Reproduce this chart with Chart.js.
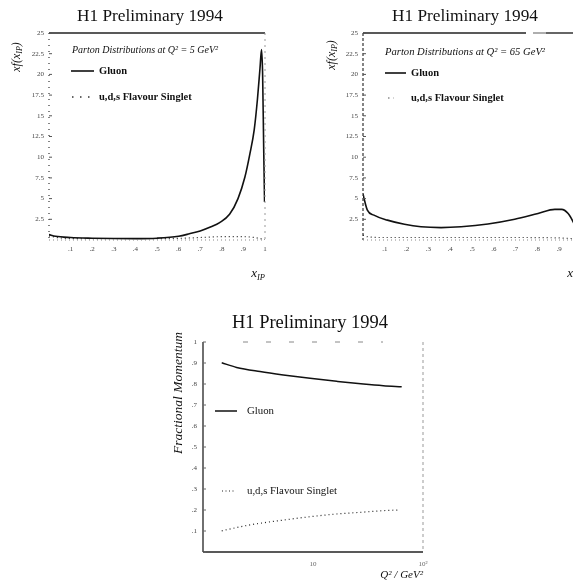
<!DOCTYPE html>
<html><head><meta charset="utf-8">
<script src="https://cdn.jsdelivr.net/npm/chart.js@4/dist/chart.umd.min.js"></script>
<style>
html,body{margin:0;padding:0;background:#fff;overflow:hidden;width:573px;height:588px;position:relative;}
canvas{position:absolute;display:block;}
</style></head><body>
<canvas id="c1" width="300" height="290" style="left:0;top:0"></canvas>
<canvas id="c2" width="310" height="290" style="left:310px;top:0"></canvas>
<canvas id="c3" width="320" height="298" style="left:150px;top:290px"></canvas>
<script>
// ---------------- data ----------------
const TITLE = 'H1 Preliminary 1994';
const LEG_GLUON = 'Gluon';
const LEG_SINGLET = 'u,d,s Flavour Singlet';

// Panel 1 : Q^2 = 5 GeV^2, xf(x_IP) vs x_IP
const p1Header = 'Parton Distributions at Q² = 5 GeV²';
const p1GluonX = [0, 0.03, 0.1, 0.2, 0.3, 0.4, 0.5, 0.6, 0.65, 0.7, 0.75, 0.79, 0.836, 0.875, 0.907, 0.93, 0.95, 0.965, 0.977, 0.984, 0.989, 0.994, 0.998];
const p1GluonY = [0.65, 0.45, 0.3, 0.22, 0.18, 0.17, 0.22, 0.45, 0.75, 1.1, 1.6, 2.1, 3.1, 5.0, 7.6, 10.4, 13.3, 17.0, 20.8, 23.0, 20.0, 11.0, 4.6];
const p1SingX = [0, 0.05, 0.2, 0.4, 0.6, 0.7, 0.8, 0.9, 0.95, 1.0];
const p1SingY = [0.5, 0.25, 0.15, 0.15, 0.2, 0.3, 0.4, 0.4, 0.3, 0.05];

// Panel 2 : Q^2 = 65 GeV^2
const p2Header = 'Parton Distributions at Q² = 65 GeV²';
const p2GluonX = [0, 0.005, 0.02, 0.05, 0.112, 0.19, 0.266, 0.358, 0.45, 0.573, 0.696, 0.803, 0.88, 0.911, 0.941, 0.964, 0.985, 1.0];
const p2GluonY = [5.6, 5.0, 3.6, 3.0, 2.4, 1.9, 1.6, 1.5, 1.6, 1.93, 2.5, 3.2, 3.7, 3.7, 3.2, 2.2, 1.0, 0.3];
const p2SingX = [0, 0.02, 0.1, 0.3, 0.5, 0.7, 0.9, 1.0];
const p2SingY = [0.6, 0.4, 0.3, 0.3, 0.3, 0.3, 0.25, 0.1];

// Panel 3 : fractional momentum vs Q^2
const p3GluonQ2 = [1.48, 2.02, 3.3, 5.37, 9.4, 16.4, 28.7, 43.6, 64];
const p3GluonY  = [0.901, 0.879, 0.859, 0.843, 0.827, 0.813, 0.80, 0.792, 0.787];
const p3SingQ2  = [1.48, 2.67, 5.37, 9.4, 16.4, 28.7, 43.6, 59.5];
const p3SingY   = [0.101, 0.129, 0.152, 0.168, 0.181, 0.19, 0.197, 0.20];

const p1YTicks = [2.5, 5, 7.5, 10, 12.5, 15, 17.5, 20, 22.5, 25];
const p3XTicks = [10, 100];
const p3XTickLabels = ['10', '10²'];

// ---------------- helpers ----------------
const SERIF = '"Liberation Serif", "DejaVu Serif", serif';
const pts = (xs, ys) => xs.map((x, i) => ({x: x, y: ys[i]}));

function font(size, style) { return (style || '') + ' ' + size + 'px ' + SERIF; }
function rich(ctx, x, y, parts, align) {
  let total = 0;
  parts.forEach(p => { ctx.font = font(p[1], p[2]); total += ctx.measureText(p[0]).width; });
  let cx = align === 'right' ? x - total : align === 'center' ? x - total / 2 : x;
  ctx.textAlign = 'left';
  parts.forEach(p => { ctx.font = font(p[1], p[2]); ctx.fillText(p[0], cx, y + (p[3] || 0)); cx += ctx.measureText(p[0]).width; });
}
function line(ctx, x1, y1, x2, y2, w, c, dash) {
  ctx.save(); ctx.beginPath(); ctx.lineWidth = w; ctx.strokeStyle = c; ctx.setLineDash(dash || []);
  ctx.moveTo(x1, y1); ctx.lineTo(x2, y2); ctx.stroke(); ctx.restore();
}
function text(ctx, s, x, y, f, align, base) {
  ctx.font = f; ctx.textAlign = align || 'left'; ctx.textBaseline = base || 'middle'; ctx.fillText(s, x, y);
}
function innerYTicks(chart, len, color) {
  const ctx = chart.ctx, a = chart.chartArea, ys = chart.scales.y;
  ys.ticks.forEach(t => {
    const py = ys.getPixelForValue(t.value);
    line(ctx, a.left, py, a.left + len, py, 1, color);
  });
}

function gluonDs(data, w) {
  return {label: LEG_GLUON, data: data, borderColor: '#111', borderWidth: w, pointRadius: 0, fill: false, cubicInterpolationMode: 'monotone'};
}
function singDs(data) {
  return {label: LEG_SINGLET, data: data, borderColor: '#222', borderWidth: 1.2, borderDash: [1, 3], pointRadius: 0, fill: false, cubicInterpolationMode: 'monotone'};
}
const tickFont = {size: 7, family: SERIF};

function topPanelOptions(yWidth, rightPad) {
  return {
    responsive: false, animation: false, devicePixelRatio: 1,
    layout: {padding: {left: 0, top: 33, right: rightPad, bottom: 34}},
    plugins: {legend: {display: false}, tooltip: {enabled: false}, title: {display: false}},
    scales: {
      x: {type: 'linear', min: 0, max: 1, afterFit: s => { s.height = 16; },
          grid: {display: false, drawTicks: false}, border: {display: false},
          ticks: {stepSize: 0.1, padding: 5, font: tickFont, color: '#444', maxRotation: 0, autoSkip: false,
                  callback: v => v === 0 ? '' : (Math.abs(v - 1) < 1e-9 ? '1' : '.' + Math.round(v * 10))}},
      y: {min: 0, max: 25, afterFit: s => { s.width = yWidth; },
          afterBuildTicks: s => { s.ticks = p1YTicks.map(v => ({value: v})); },
          grid: {display: false, drawTicks: false}, border: {display: false},
          ticks: {padding: 5, font: tickFont, color: '#444', callback: v => String(v)}}
    }
  };
}

// ---------------- Panel 1 ----------------
new Chart(document.getElementById('c1'), {
  type: 'line',
  data: {datasets: [gluonDs(pts(p1GluonX, p1GluonY), 1.6), singDs(pts(p1SingX, p1SingY))]},
  options: topPanelOptions(49, 35),
  plugins: [{
    id: 'deco1',
    afterDraw(chart) {
      const ctx = chart.ctx, a = chart.chartArea;
      ctx.save(); ctx.fillStyle = '#111';
      line(ctx, a.left, a.top, a.right, a.top, 1.6, '#222');
      line(ctx, a.left, a.top, a.left, a.bottom, 1.2, '#333', [1, 5]);
      line(ctx, a.right, a.top, a.right, a.bottom, 1, '#999', [2, 4]);
      line(ctx, a.left, a.bottom, a.right, a.bottom, 1, '#888', [1, 3]);
      innerYTicks(chart, 3, '#555');
      text(ctx, TITLE, 150, 16, font(17.3), 'center');
      ctx.save(); ctx.translate(17, 57); ctx.rotate(-Math.PI / 2); ctx.textBaseline = 'middle';
      rich(ctx, 0, 0, [['xf(x', 12, 'italic'], ['IP', 8, 'italic', 3], [')', 12, 'italic']], 'center');
      ctx.restore();
      ctx.textBaseline = 'alphabetic';
      rich(ctx, a.right, 277, [['x', 13, 'italic'], ['IP', 8.5, 'italic', 3]], 'right');
      text(ctx, p1Header, 72, 50, font(10, 'italic'));
      line(ctx, 71, 71, 94, 71, 1.6, '#111');
      text(ctx, LEG_GLUON, 99, 71, font(10.5, 'bold'));
      line(ctx, 72, 97, 91, 97, 1.3, '#333', [1.5, 6.5]);
      text(ctx, LEG_SINGLET, 99, 97, font(10.5, 'bold'));
      ctx.restore();
    }
  }]
});

// ---------------- Panel 2 ----------------
new Chart(document.getElementById('c2'), {
  type: 'line',
  data: {datasets: [gluonDs(pts(p2GluonX, p2GluonY), 1.6), singDs(pts(p2SingX, p2SingY))]},
  options: topPanelOptions(53, 39),
  plugins: [{
    id: 'deco2',
    afterDraw(chart) {
      const ctx = chart.ctx, a = chart.chartArea;
      ctx.save(); ctx.fillStyle = '#111';
      line(ctx, a.left, a.top, a.left + 163, a.top, 1.6, '#222');
      line(ctx, a.left + 170, a.top, a.left + 183, a.top, 1.2, '#777');
      line(ctx, a.left + 183, a.top, a.right, a.top, 1.6, '#333');
      line(ctx, a.left, a.top, a.left, a.bottom, 1.2, '#333', [3, 2]);
      line(ctx, a.left, a.bottom, a.right, a.bottom, 1, '#888', [1, 3]);
      innerYTicks(chart, 3, '#555');
      text(ctx, TITLE, 155, 16, font(17.3), 'center');
      ctx.save(); ctx.translate(22, 55); ctx.rotate(-Math.PI / 2); ctx.textBaseline = 'middle';
      rich(ctx, 0, 0, [['xf(x', 12, 'italic'], ['IP', 8, 'italic', 3], [')', 12, 'italic']], 'center');
      ctx.restore();
      ctx.textBaseline = 'alphabetic';
      rich(ctx, a.right, 277, [['x', 13, 'italic'], ['IP', 8.5, 'italic', 3]], 'right');
      text(ctx, p2Header, 75, 52, font(10.6, 'italic'));
      line(ctx, 75, 73, 96, 73, 1.6, '#111');
      text(ctx, LEG_GLUON, 101, 73, font(10.5, 'bold'));
      line(ctx, 78, 98, 84, 98, 1.2, '#555', [1.5, 4]);
      text(ctx, LEG_SINGLET, 101, 98, font(10.5, 'bold'));
      ctx.restore();
    }
  }]
});

// ---------------- Panel 3 ----------------
new Chart(document.getElementById('c3'), {
  type: 'line',
  data: {datasets: [gluonDs(pts(p3GluonQ2, p3GluonY), 1.5), singDs(pts(p3SingQ2, p3SingY))]},
  options: {
    responsive: false, animation: false, devicePixelRatio: 1,
    layout: {padding: {left: 0, top: 52, right: 47, bottom: 16}},
    plugins: {legend: {display: false}, tooltip: {enabled: false}, title: {display: false}},
    scales: {
      x: {type: 'logarithmic', min: 1, max: 100, afterFit: s => { s.height = 20; },
          afterBuildTicks: s => { s.ticks = p3XTicks.map(v => ({value: v})); },
          grid: {display: false, drawTicks: false}, border: {display: false},
          ticks: {padding: 8, font: tickFont, color: '#666', maxRotation: 0, autoSkip: false,
                  callback: (v) => p3XTickLabels[p3XTicks.indexOf(v)] || ''}},
      y: {min: 0, max: 1, afterFit: s => { s.width = 53; },
          grid: {display: false, drawTicks: false}, border: {display: false},
          ticks: {stepSize: 0.1, padding: 6, font: tickFont, color: '#444',
                  callback: v => v < 1e-9 ? '' : (Math.abs(v - 1) < 1e-9 ? '1' : '.' + Math.round(v * 10))}}
    }
  },
  plugins: [{
    id: 'deco3',
    afterDraw(chart) {
      const ctx = chart.ctx, a = chart.chartArea;
      ctx.save(); ctx.fillStyle = '#111';
      line(ctx, a.left, a.top, a.left, a.bottom, 1.3, '#222');
      line(ctx, a.left, a.bottom, a.right, a.bottom, 1.5, '#222');
      line(ctx, a.left + 40, a.top, a.right - 40, a.top, 1, '#888', [5, 18]);
      line(ctx, a.right, a.top, a.right, a.bottom, 1, '#999', [3, 3]);
      innerYTicks(chart, 3, '#666');
      text(ctx, TITLE, 160, 33, font(18.5), 'center');
      ctx.save(); ctx.translate(28.5, 103); ctx.rotate(-Math.PI / 2);
      text(ctx, 'Fractional Momentum', 0, 0, font(13.5, 'italic'), 'center');
      ctx.restore();
      text(ctx, 'Q² / GeV²', a.right, 285, font(11, 'italic'), 'right');
      line(ctx, 65, 121, 87, 121, 1.5, '#111');
      text(ctx, LEG_GLUON, 97, 121, font(10.8));
      line(ctx, 72, 201, 86, 201, 1.2, '#222', [1, 2.5]);
      text(ctx, LEG_SINGLET, 97, 201, font(10.8));
      ctx.restore();
    }
  }]
});
</script>
</body></html>
